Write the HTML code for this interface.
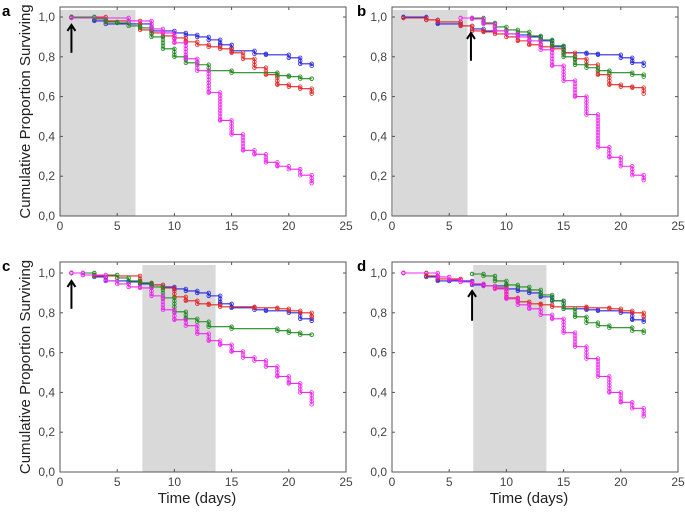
<!DOCTYPE html>
<html><head><meta charset="utf-8"><style>
body{margin:0;background:#fff;width:685px;height:512px;overflow:hidden}
svg{display:block;font-family:"Liberation Sans",sans-serif}
</style></head><body>
<svg id="chart" width="685" height="512"></svg>
<script>
const panelLabels=["a","b","c","d"];
const shadeStart=[0.05,0.1,7.2,7.1];
const shadeEnd=[6.6,6.6,13.6,13.5];
const arrowDay=[1,6.9,1,7];
const arrowLow=[0.82,0.78,0.82,0.76];
const arrowHigh=[0.96,0.92,0.96,0.91];
const xTicks=[0,5,10,15,20,25];
const yTicks=[0,0.2,0.4,0.6,0.8,1.0];
const yTickLabels=["0,0","0,2","0,4","0,6","0,8","1,0"];
const seriesNames=["blue","red","green","magenta"];
const seriesColors=["#2828e0","#e42828","#218a21","#ee2aee"];
// Panel a
const aBlueT=[1,3,4,8,10,11,12,13,14,15,17,18,20,21,22];
const aBlueV=[1.0,0.98,0.965,0.93,0.92,0.91,0.9,0.885,0.86,0.83,0.815,0.81,0.795,0.765,0.755];
const aRedT=[1,4,7,8,9,10,11,12,13,14,15,16,17,18,19,20,21,22];
const aRedV=[1.0,0.98,0.935,0.92,0.905,0.895,0.875,0.86,0.85,0.84,0.82,0.79,0.745,0.71,0.66,0.65,0.64,0.615];
const aGreenT=[1,3,4,5,6,7,8,9,10,11,12,13,15,19,20,21,22];
const aGreenV=[1.0,0.99,0.975,0.97,0.955,0.945,0.9,0.84,0.8,0.77,0.76,0.73,0.72,0.705,0.7,0.69,0.69];
const aMagT=[1,6,8,9,10,11,12,13,14,15,16,17,18,19,20,21,22];
const aMagV=[0.995,0.98,0.94,0.92,0.87,0.79,0.73,0.62,0.48,0.41,0.33,0.31,0.27,0.25,0.235,0.205,0.165];
// Panel b
const bBlueT=[1,3,4,6,7,8,10,11,12,13,14,15,17,18,20,21,22];
const bBlueV=[1.0,0.985,0.965,0.955,0.94,0.93,0.915,0.91,0.9,0.88,0.85,0.82,0.815,0.81,0.795,0.77,0.755];
const bRedT=[1,3,4,6,7,8,9,10,11,12,13,14,15,16,17,18,19,20,21,22];
const bRedV=[0.995,0.985,0.975,0.955,0.93,0.925,0.915,0.9,0.88,0.86,0.85,0.84,0.82,0.79,0.76,0.71,0.66,0.65,0.645,0.615];
const bGreenT=[7,8,9,10,11,12,13,14,15,16,17,18,19,21,22];
const bGreenV=[0.995,0.97,0.95,0.935,0.925,0.905,0.885,0.855,0.8,0.76,0.745,0.73,0.72,0.71,0.7];
const bMagT=[6,7,8,9,10,11,12,13,14,15,16,17,18,19,20,21,22];
const bMagV=[0.995,0.99,0.965,0.93,0.915,0.9,0.88,0.835,0.755,0.68,0.6,0.51,0.345,0.295,0.25,0.205,0.18];
// Panel c
const cBlueT=[1,2,3,4,6,7,8,9,10,11,12,13,14,15,17,18,20,21,22];
const cBlueV=[1.0,0.99,0.98,0.96,0.955,0.945,0.94,0.93,0.92,0.91,0.9,0.885,0.845,0.825,0.815,0.81,0.8,0.77,0.76];
const cRedT=[1,3,7,8,9,10,11,12,13,14,17,19,20,21,22];
const cRedV=[1.0,0.985,0.95,0.94,0.925,0.88,0.86,0.845,0.84,0.83,0.825,0.82,0.81,0.8,0.78];
const cGreenT=[1,3,5,6,7,8,9,10,11,12,13,15,19,20,21,22];
const cGreenV=[1.0,0.99,0.975,0.96,0.95,0.93,0.875,0.805,0.77,0.755,0.73,0.72,0.71,0.7,0.69,0.69];
const cMagT=[1,2,4,5,6,7,8,9,10,11,12,13,14,15,16,17,18,19,20,21,22];
const cMagV=[1.0,0.99,0.96,0.945,0.93,0.925,0.885,0.815,0.765,0.735,0.695,0.66,0.64,0.605,0.575,0.56,0.53,0.48,0.445,0.4,0.34];
// Panel d
const dBlueT=[1,3,4,5,7,8,10,11,12,13,14,15,17,18,20,21,22];
const dBlueV=[1.0,0.98,0.96,0.96,0.94,0.935,0.92,0.91,0.9,0.88,0.86,0.82,0.815,0.81,0.8,0.765,0.755];
const dRedT=[1,3,4,6,7,8,9,10,11,12,13,14,17,19,20,21,22];
const dRedV=[1.0,0.985,0.97,0.955,0.945,0.935,0.925,0.875,0.855,0.845,0.84,0.83,0.825,0.82,0.81,0.8,0.78];
const dGreenT=[7,8,9,10,11,12,13,14,15,16,17,18,19,21,22];
const dGreenV=[0.995,0.985,0.96,0.94,0.93,0.915,0.89,0.86,0.82,0.78,0.75,0.735,0.725,0.71,0.7];
const dMagT=[1,4,5,6,7,8,9,10,11,12,13,14,15,16,17,18,19,20,21,22];
const dMagV=[1.0,0.98,0.965,0.955,0.945,0.935,0.92,0.87,0.84,0.82,0.79,0.77,0.7,0.63,0.57,0.48,0.4,0.35,0.32,0.28];

const panelSeries=[
 [[aBlueT,aBlueV],[aRedT,aRedV],[aGreenT,aGreenV],[aMagT,aMagV]],
 [[bBlueT,bBlueV],[bRedT,bRedV],[bGreenT,bGreenV],[bMagT,bMagV]],
 [[cBlueT,cBlueV],[cRedT,cRedV],[cGreenT,cGreenV],[cMagT,cMagV]],
 [[dBlueT,dBlueV],[dRedT,dRedV],[dGreenT,dGreenV],[dMagT,dMagV]]
];
const frames=[
 {l:60,r:346,t:7,b:216,y1:17},
 {l:392,r:678,t:7,b:216,y1:17},
 {l:60,r:346,t:262,b:472,y1:273},
 {l:392,r:678,t:262,b:472,y1:273}
];
const NS="http://www.w3.org/2000/svg";
const svg=document.getElementById("chart");
function mk(tag,attrs,parent){const e=document.createElementNS(NS,tag);for(const k in attrs)e.setAttribute(k,attrs[k]);(parent||svg).appendChild(e);return e;}

frames.forEach((f,pi)=>{
 const g=mk("g",{});
 
 
 const xs=d=>f.l+(f.r-f.l)*d/25;
 const ys=v=>f.b-(f.b-f.y1)*v;
 const sh=mk("rect",{x:xs(shadeStart[pi]),y:f.t+3,width:xs(shadeEnd[pi])-xs(shadeStart[pi]),height:f.b-f.t-3,fill:"#d9d9d9"},g);
 
 
 const fr=mk("rect",{x:f.l,y:f.t,width:f.r-f.l,height:f.b-f.t,fill:"none",stroke:"#555","stroke-width":1},g);
 
 
 xTicks.forEach(t=>{
  mk("line",{x1:xs(t),x2:xs(t),y1:f.b,y2:f.b-3,stroke:"#555"},g);
  mk("line",{x1:xs(t),x2:xs(t),y1:f.t,y2:f.t+3,stroke:"#555"},g);
  const tx=mk("text",{x:xs(t),y:f.b+14,"text-anchor":"middle","font-size":12,fill:"#444"},g);
  tx.textContent=t;
  
  
 });
 yTicks.forEach((v,i)=>{
  mk("line",{x1:f.l,x2:f.l+3,y1:ys(v),y2:ys(v),stroke:"#555"},g);
  mk("line",{x1:f.r,x2:f.r-3,y1:ys(v),y2:ys(v),stroke:"#555"},g);
  const tx=mk("text",{x:f.l-5,y:ys(v)+4,"text-anchor":"end","font-size":12,fill:"#444"},g);
  tx.textContent=yTickLabels[i];
  
  
 });
 panelSeries[pi].forEach((s,si)=>{
  const [T,V]=s;const col=seriesColors[si];
  const sg=mk("g",{},g);
  
  
  let d="M"+xs(T[0])+","+ys(V[0]);
  for(let i=1;i<T.length;i++){d+=" H"+xs(T[i])+" V"+ys(V[i]);}
  const p=mk("path",{d:d,fill:"none",stroke:col,"stroke-width":1.1},sg);
  
  
  for(let i=0;i<T.length;i++){
   const top=i>0?ys(V[i-1]):ys(V[i]);const bot=ys(V[i]);
   for(let y=top;y<=bot+0.01;y+=3){
    const c=mk("circle",{cx:xs(T[i]),cy:Math.min(y,bot),r:1.8,fill:"none",stroke:col,"stroke-width":0.8},sg);
    
    
   }
   mk("circle",{cx:xs(T[i]),cy:bot,r:1.8,fill:"none",stroke:col,"stroke-width":0.8},sg);
  }
 });
 const ax=xs(arrowDay[pi]);
 const ar=mk("g",{},g);
 
 
 mk("line",{x1:ax,x2:ax,y1:ys(arrowLow[pi]),y2:ys(arrowHigh[pi])+2,stroke:"#000","stroke-width":2},ar);
 mk("path",{d:`M${ax-4},${ys(arrowHigh[pi])+6} L${ax},${ys(arrowHigh[pi])} L${ax+4},${ys(arrowHigh[pi])+6}`,fill:"none",stroke:"#000","stroke-width":2},ar);
 const lb=mk("text",{x:pi%2?f.l-35:2,y:f.t+9,"font-size":15,"font-weight":"bold",fill:"#000"},g);
 lb.textContent=panelLabels[pi];
 
 
 if(pi%2===0){
  const cy=(f.t+f.b)/2;
  const yt=mk("text",{x:0,y:0,transform:`translate(30,${cy}) rotate(-90)`,"text-anchor":"middle","font-size":15,fill:"#222"},g);
  yt.textContent="Cumulative Proportion Surviving";
  
  
 }
 if(pi>=2){
  const xt=mk("text",{x:(f.l+f.r)/2-6,y:503,"text-anchor":"middle","font-size":15,fill:"#222"},g);
  xt.textContent="Time (days)";
  
  
 }
});
</script>
</body></html>
